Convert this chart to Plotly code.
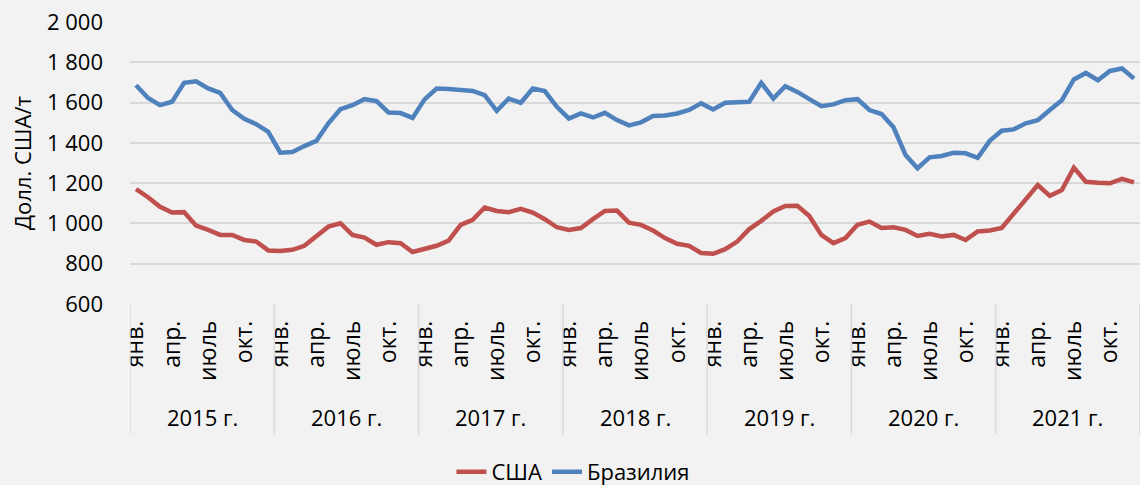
import plotly.graph_objects as go

years = ["2015 г.", "2016 г.", "2017 г.", "2018 г.", "2019 г.", "2020 г.", "2021 г."]
month_labels = ["янв.", "", "", "апр.", "", "", "июль", "", "", "окт.", "", ""]

usa = [1170, 1130, 1083, 1054, 1056, 989, 968, 943, 943, 918, 910, 866,
       863, 869, 889, 935, 984, 1001, 943, 930, 894, 907, 902, 858,
       872, 889, 915, 993, 1018, 1079, 1062, 1056, 1072, 1054, 1021, 981,
       968, 977, 1021, 1062, 1064, 1004, 993, 965, 927, 899, 889, 853,
       849, 872, 910, 972, 1013, 1059, 1087, 1088, 1037, 943, 902, 927,
       993, 1009, 977, 981, 968, 938, 948, 935, 943, 918, 960, 965,
       977, 1049, 1117, 1191, 1137, 1166, 1277, 1207, 1202, 1199, 1221, 1204]

brazil = [1686, 1623, 1587, 1604, 1698, 1706, 1670, 1648, 1563, 1519, 1493, 1455,
          1351, 1354, 1384, 1410, 1497, 1567, 1587, 1617, 1607, 1551, 1548, 1524,
          1616, 1670, 1667, 1663, 1658, 1637, 1559, 1620, 1599, 1670, 1657, 1579,
          1521, 1546, 1526, 1549, 1513, 1487, 1502, 1533, 1536, 1546, 1563, 1596,
          1566, 1599, 1602, 1604, 1698, 1620, 1681, 1653, 1617, 1582, 1591, 1612,
          1617, 1563, 1543, 1477, 1340, 1274, 1328, 1335, 1351, 1348, 1326, 1410,
          1460, 1467, 1497, 1513, 1563, 1612, 1715, 1747, 1711, 1757, 1769, 1720]

n = len(usa)
xs = list(range(n))

FONT = "Open Sans"
fig = go.Figure()
fig.add_trace(go.Scatter(x=xs, y=usa, mode="lines", name="США",
                         line=dict(color="#c0504d", width=4.5)))
fig.add_trace(go.Scatter(x=xs, y=brazil, mode="lines", name="Бразилия",
                         line=dict(color="#4f81bd", width=4.5)))

tickvals, ticktext = [], []
for yi in range(len(years)):
    for mi, lab in enumerate(month_labels):
        if lab:
            tickvals.append(yi * 12 + mi)
            ticktext.append(lab)

shapes = []
for yi in range(len(years) + 1):
    xb = yi * 12 - 0.5
    shapes.append(dict(type="line", xref="x", yref="paper", x0=xb, x1=xb,
                       y0=0, y1=-0.463, line=dict(color="#d9d9d9", width=1.5)))

annotations = []
for yi, ylab in enumerate(years):
    annotations.append(dict(x=yi * 12 + 5.5, y=-0.40, xref="x", yref="paper",
                            text=ylab, showarrow=False,
                            font=dict(family=FONT, size=22, color="#000000"),
                            xanchor="center", yanchor="middle"))
annotations.append(dict(x=0, xshift=-108, y=0.5, xref="paper", yref="paper",
                        text="Долл. США/т", textangle=-90, showarrow=False,
                        font=dict(family=FONT, size=22, color="#000000"),
                        xanchor="center", yanchor="middle"))

fig.update_layout(
    width=1140, height=485,
    paper_bgcolor="#f2f2f2", plot_bgcolor="#f2f2f2",
    margin=dict(l=130, r=0, t=22, b=181),
    separators=", ",
    font=dict(family=FONT, size=22, color="#000000"),
    showlegend=True,
    legend=dict(orientation="h", x=0.503, xanchor="center", xref="container",
                y=0.027, yanchor="middle", yref="container",
                font=dict(family=FONT, size=22), bgcolor="rgba(0,0,0,0)"),
    shapes=shapes,
    annotations=annotations,
    xaxis=dict(range=[-0.5, n - 0.5], tickvals=tickvals, ticktext=ticktext,
               tickangle=-90, showgrid=False, zeroline=False, showline=False,
               ticks="", ticklabelstandoff=11,
               tickfont=dict(family=FONT, size=23)),
    yaxis=dict(range=[600, 2000], dtick=200, tickformat=",.0f",
               showgrid=True, gridcolor="#d9d9d9", gridwidth=1.5,
               zeroline=False, showline=False, ticks="",
               ticklabelstandoff=26, tickfont=dict(family=FONT, size=22)),
)

fig.write_html("out.html", config={"displayModeBar": False},
               post_script="document.body.style.margin='0';document.body.style.overflow='hidden';")
